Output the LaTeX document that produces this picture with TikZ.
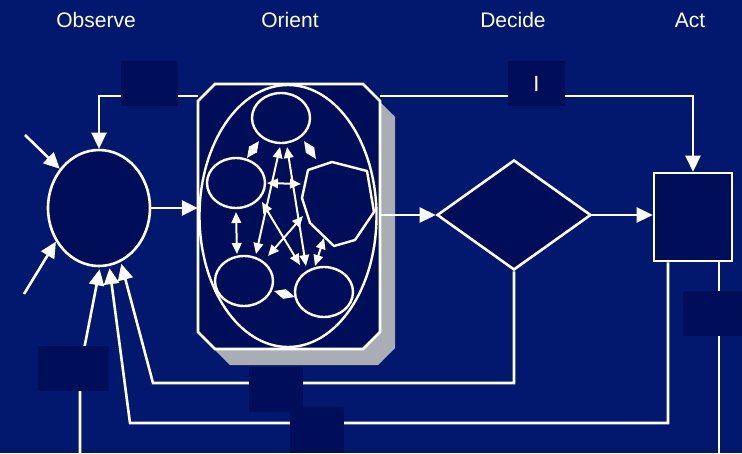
\documentclass[tikz,border=0pt]{standalone}
\usepackage{fontspec}
\setmainfont{Liberation Sans}
\usetikzlibrary{arrows.meta,shapes.geometric,calc}
\definecolor{bg}{RGB}{2,24,110}
\definecolor{deep}{RGB}{0,14,90}
\definecolor{slate}{RGB}{168,174,180}

\begin{document}
\begin{tikzpicture}[x=1pt,y=-1pt,
  line/.style={draw=white,line width=2.6pt},
  flow/.style={line,-{Triangle[length=16pt,width=15pt]}},
  link/.style={draw=white,line width=2pt,{Triangle[length=11pt,width=9.5pt]}-{Triangle[length=11pt,width=9.5pt]}},
  framed/.style={draw=white,line width=2.6pt,fill=deep,inner sep=0pt},
  tag/.style={fill=deep,inner sep=0pt,minimum width=#1,minimum height=45pt},
  title/.style={text=white,font=\fontsize{21}{24}\selectfont,anchor=base},
  bubble/.style={ellipse,draw=white,line width=2.4pt,inner sep=0pt,minimum width=58pt,minimum height=50pt}
]
\useasboundingbox (0,0) rectangle (742,453);
\fill[bg] (0,0) rectangle (742,453);

% column headings
\node[title] (tobs) at (96,27) {Observe};
\node[title] (tori) at (290,27) {Orient};
\node[title] (tdec) at (513,27) {Decide};
\node[title] (tact) at (690,27) {Act};

% observe
\node[framed,ellipse,minimum width=102pt,minimum height=116pt] (obs) at (99,208) {};

% orient frame with its drop shadow
\fill[slate] (230,100) -- (378,100) -- (395,117) -- (395,348) -- (378,365) -- (230,365) -- (213,348) -- (213,117) -- cycle;
\filldraw[fill=deep,draw=white,line width=2.6pt]
  (215,84) -- (363,84) -- (380,101) -- (380,332) -- (363,349) -- (215,349) -- (198,332) -- (198,101) -- cycle;
\node[inner sep=0pt,minimum width=182pt,minimum height=265pt] (orient) at (289,216.5) {};

% decide and act
\node[framed,diamond,aspect=1.4,minimum width=154pt,minimum height=110pt] (dec) at (514,215) {};
\node[framed,rectangle,minimum width=78pt,minimum height=88pt] (act) at (693,217) {};

% main connectors
\coordinate (toprow) at (0,96);
\draw[flow] (orient.west |- toprow) -| (obs.north);
\draw[flow] (orient.east |- toprow) -| (act.north);
\draw[flow] (obs.east) -- (orient.west |- obs.east);
\draw[flow] (orient.east |- dec.west) -- (dec.west);
\draw[flow] (dec.east) -- (act.west |- dec.east);

\coordinate (loopA) at (153,383);
\draw[flow,shorten >=2pt] (dec.south) |- (loopA) -- (obs.-68);
\coordinate (loopB) at (130,423);
\coordinate (actout) at (668,0);
\draw[flow,shorten >=2pt] (act.south -| actout) |- (loopB) -- (obs.-80);
\coordinate (feedC) at (80,370);
\coordinate (baseL) at (80,453);
\draw[flow,shorten >=2pt] (baseL) -- (feedC) -- (obs.-89);
\coordinate (baseR) at (719,453);
\draw[line] (act.south -| baseR) -- (baseR);

\coordinate (inA) at (25,135);
\draw[flow] (inA) -- (obs.135);
\coordinate (inB) at (24,294);
\draw[flow] (inB) -- (obs.-142);

% inside orient
\node[ellipse,draw=white,line width=2.4pt,inner sep=0pt,minimum width=177pt,minimum height=262pt] (core) at (288,216) {};
\node[bubble] (e1) at (281,118) {};
\node[bubble] (e2) at (236,183) {};
\node[bubble] (e3) at (244,281) {};
\node[bubble] (e4) at (324,292) {};
\draw[white,line width=2.4pt,line join=round]
  (332,162) -- (367,171) -- (374,212) -- (355,240) -- (334,246) -- (310,223) -- (302,198) -- (308,170) -- cycle;

\coordinate (a1) at (247,158); \coordinate (a2) at (259,141);
\coordinate (b1) at (304,141); \coordinate (b2) at (316,159);
\coordinate (c1) at (236,212); \coordinate (c2) at (237,254);
\coordinate (d1) at (280,147); \coordinate (d2) at (256,254);
\coordinate (f1) at (287,147); \coordinate (f2) at (306,266);
\coordinate (g1) at (267,183); \coordinate (g2) at (301,184);
\coordinate (h1) at (262,202); \coordinate (h2) at (300,265);
\coordinate (k1) at (303,216); \coordinate (k2) at (268,256);
\coordinate (m1) at (324,238); \coordinate (m2) at (315,266);
\coordinate (n1) at (274,291); \coordinate (n2) at (295,297);
\draw[link] (a1) -- (a2);
\draw[link] (b1) -- (b2);
\draw[link] (c1) -- (c2);
\draw[link] (d1) -- (d2);
\draw[link] (f1) -- (f2);
\draw[link] (g1) -- (g2);
\draw[link] (h1) -- (h2);
\draw[link] (k1) -- (k2);
\draw[link] (m1) -- (m2);
\draw[link] (n1) -- (n2);

% label plates over the connectors
\node[tag=57pt] (p1) at (149.5,83.5) {};
\node[tag=57pt,text=white,font=\fontsize{22}{24}\selectfont] (p2) at (536.5,83.5) {I};
\node[tag=71pt] (p3) at (73.5,368.5) {};
\node[tag=54pt] (p4) at (276,389.5) {};
\node[tag=54pt,minimum height=46pt] (p5) at (317,430) {};
\node[tag=59pt] (p6) at (712.5,313.5) {};
\end{tikzpicture}
\end{document}
